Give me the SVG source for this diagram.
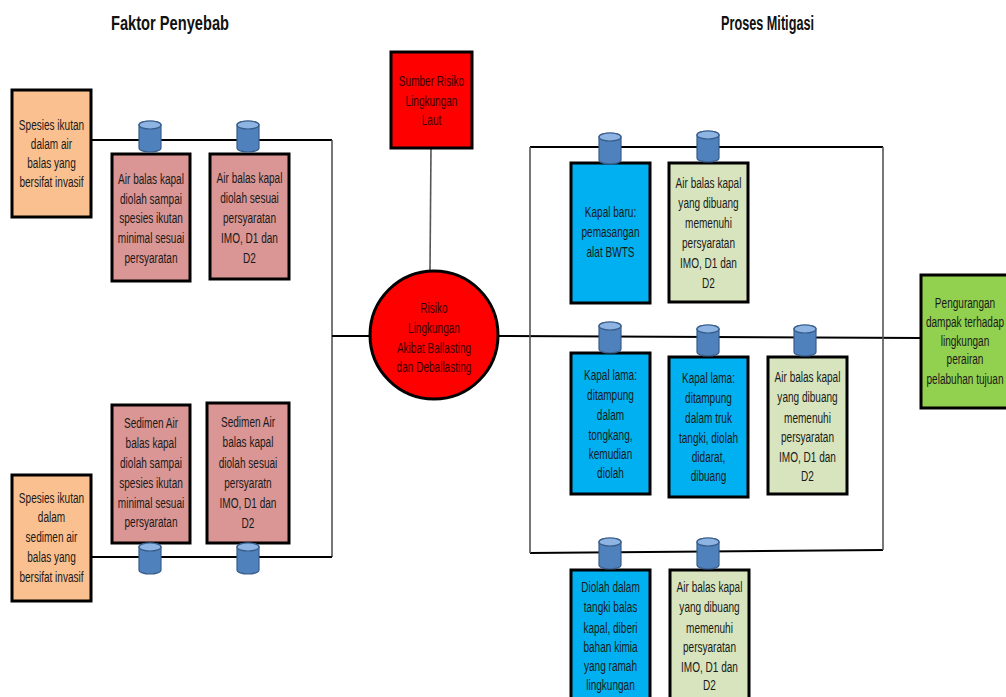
<svg xmlns="http://www.w3.org/2000/svg" xmlns:xlink="http://www.w3.org/1999/xlink" width="1006" height="697" viewBox="0 0 1006 697">
<style>
.box{stroke:#000;stroke-width:3}
.org{fill:#FAC090}.pnk{fill:#D99694}.blu{fill:#00B0F0}.lgr{fill:#D7E4BD}.grn{fill:#92D050}.red{fill:#FF0000}
.t{font-family:"Liberation Sans",Arial,sans-serif;font-size:15px;fill:#1a1a1a;text-anchor:middle}
.tr{font-family:"Liberation Sans",Arial,sans-serif;font-size:15px;fill:#3a0000;text-anchor:middle}
.h{font-family:"Liberation Sans",Arial,sans-serif;font-size:20px;font-weight:bold;fill:#111;text-anchor:middle}
.ln{fill:none;stroke:#000;stroke-width:2}
.lg{fill:none;stroke:#555;stroke-width:1.6}
</style>
<defs>
<g id="cyl">
<path d="M-11,4 V27 A11,4 0 0 0 11,27 V4 A11,4 0 0 0 -11,4 Z" fill="#4F81BD" stroke="#385D8A" stroke-width="1.2"/>
<ellipse cx="0" cy="4" rx="11" ry="4" fill="#8EB4E3" stroke="#385D8A" stroke-width="1.2"/>
</g>
</defs>
<rect width="1006" height="697" fill="#fff"/>
<text class="h" x="170" y="29.5" textLength="118" lengthAdjust="spacingAndGlyphs">Faktor Penyebab</text>
<text class="h" x="767.5" y="30" textLength="93" lengthAdjust="spacingAndGlyphs">Proses Mitigasi</text>

<g id="connectors">
<path class="ln" d="M91,140 H332"/>
<path class="lg" d="M332,140 V557"/>
<path class="ln" d="M91,557 H332"/>
<path class="ln" d="M332,336 H370"/>
<path class="lg" d="M431,148 L430,270"/>
<path class="ln" d="M498,336 L921,338"/>
<path class="ln" d="M530,147 H883"/>
<path class="ln" d="M530,553 L883,550"/>
<path class="lg" d="M530,147 V553"/>
<path class="lg" d="M883,147 V550"/>
</g>

<g id="n-spesies-air">
<rect class="box org" x="12" y="90" width="79" height="127"/>
<text class="t" transform="translate(51.5,0) scale(0.67,1)"><tspan x="0" y="130">Spesies ikutan</tspan><tspan x="0" y="149">dalam air</tspan><tspan x="0" y="168">balas yang</tspan><tspan x="0" y="187">bersifat invasif</tspan></text>
</g>
<g id="n-pink1">
<rect class="box pnk" x="112" y="154" width="78" height="127"/>
<text class="t" transform="translate(151,0) scale(0.67,1)"><tspan x="0" y="184">Air balas kapal</tspan><tspan x="0" y="204">diolah sampai</tspan><tspan x="0" y="223">spesies ikutan</tspan><tspan x="0" y="243">minimal sesuai</tspan><tspan x="0" y="263">persyaratan</tspan></text>
</g>
<g id="n-pink2">
<rect class="box pnk" x="210" y="154" width="79" height="125"/>
<text class="t" transform="translate(249.5,0) scale(0.67,1)"><tspan x="0" y="183">Air balas kapal</tspan><tspan x="0" y="203">diolah sesuai</tspan><tspan x="0" y="223">persyaratan</tspan><tspan x="0" y="243">IMO, D1 dan</tspan><tspan x="0" y="263">D2</tspan></text>
</g>
<g id="n-pink3">
<rect class="box pnk" x="112" y="405" width="78" height="138"/>
<text class="t" transform="translate(151,0) scale(0.67,1)"><tspan x="0" y="428">Sedimen Air</tspan><tspan x="0" y="448">balas kapal</tspan><tspan x="0" y="468">diolah sampai</tspan><tspan x="0" y="488">spesies ikutan</tspan><tspan x="0" y="508">minimal sesuai</tspan><tspan x="0" y="527">persyaratan</tspan></text>
</g>
<g id="n-pink4">
<rect class="box pnk" x="207" y="403" width="82" height="140"/>
<text class="t" transform="translate(248,0) scale(0.67,1)"><tspan x="0" y="427">Sedimen Air</tspan><tspan x="0" y="447">balas kapal</tspan><tspan x="0" y="468">diolah sesuai</tspan><tspan x="0" y="488">persyaratn</tspan><tspan x="0" y="508">IMO, D1 dan</tspan><tspan x="0" y="528">D2</tspan></text>
</g>
<g id="n-spesies-sedimen">
<rect class="box org" x="12" y="475" width="79" height="126"/>
<text class="t" transform="translate(51.5,0) scale(0.67,1)"><tspan x="0" y="503">Spesies ikutan</tspan><tspan x="0" y="522">dalam</tspan><tspan x="0" y="542">sedimen air</tspan><tspan x="0" y="562">balas yang</tspan><tspan x="0" y="582">bersifat invasif</tspan></text>
</g>

<g id="n-sumber">
<rect class="box red" x="391" y="52" width="81" height="96"/>
<text class="tr" transform="translate(431.5,0) scale(0.67,1)"><tspan x="0" y="86">Sumber Risiko</tspan><tspan x="0" y="106">Lingkungan</tspan><tspan x="0" y="125">Laut</tspan></text>
</g>
<g id="n-risiko">
<circle class="box red" cx="434" cy="335" r="64"/>
<text class="tr" transform="translate(434,0) scale(0.67,1)"><tspan x="0" y="313">Risiko</tspan><tspan x="0" y="333">Lingkungan</tspan><tspan x="0" y="353">Akibat Ballasting</tspan><tspan x="0" y="372">dan Deballasting</tspan></text>
</g>

<g id="n-kapal-baru">
<rect class="box blu" x="571" y="163" width="79" height="140"/>
<text class="t" transform="translate(610.5,0) scale(0.67,1)"><tspan x="0" y="217">Kapal baru:</tspan><tspan x="0" y="237">pemasangan</tspan><tspan x="0" y="257">alat BWTS</tspan></text>
</g>
<g id="n-lg1">
<rect class="box lgr" x="669" y="163" width="79" height="139"/>
<text class="t" transform="translate(708.5,0) scale(0.67,1)"><tspan x="0" y="188">Air balas kapal</tspan><tspan x="0" y="208">yang dibuang</tspan><tspan x="0" y="228">memenuhi</tspan><tspan x="0" y="248">persyaratan</tspan><tspan x="0" y="268">IMO, D1 dan</tspan><tspan x="0" y="288">D2</tspan></text>
</g>
<g id="n-kapal-lama1">
<rect class="box blu" x="571" y="353" width="79" height="141"/>
<text class="t" transform="translate(610.5,0) scale(0.67,1)"><tspan x="0" y="380">Kapal lama:</tspan><tspan x="0" y="400">ditampung</tspan><tspan x="0" y="420">dalam</tspan><tspan x="0" y="440">tongkang,</tspan><tspan x="0" y="459">kemudian</tspan><tspan x="0" y="478">diolah</tspan></text>
</g>
<g id="n-kapal-lama2">
<rect class="box blu" x="669" y="357" width="79" height="140"/>
<text class="t" transform="translate(708.5,0) scale(0.67,1)"><tspan x="0" y="383">Kapal lama:</tspan><tspan x="0" y="403">ditampung</tspan><tspan x="0" y="423">dalam truk</tspan><tspan x="0" y="443">tangki, diolah</tspan><tspan x="0" y="462">didarat,</tspan><tspan x="0" y="481">dibuang</tspan></text>
</g>
<g id="n-lg2">
<rect class="box lgr" x="768" y="357" width="79" height="137"/>
<text class="t" transform="translate(807.5,0) scale(0.67,1)"><tspan x="0" y="382">Air balas kapal</tspan><tspan x="0" y="402">yang dibuang</tspan><tspan x="0" y="423">memenuhi</tspan><tspan x="0" y="442">persyaratan</tspan><tspan x="0" y="462">IMO, D1 dan</tspan><tspan x="0" y="481">D2</tspan></text>
</g>
<g id="n-diolah">
<rect class="box blu" x="571" y="570" width="79" height="132"/>
<text class="t" transform="translate(610.5,0) scale(0.67,1)"><tspan x="0" y="592">Diolah dalam</tspan><tspan x="0" y="612">tangki balas</tspan><tspan x="0" y="633">kapal, diberi</tspan><tspan x="0" y="652">bahan kimia</tspan><tspan x="0" y="671">yang ramah</tspan><tspan x="0" y="690">lingkungan</tspan></text>
</g>
<g id="n-lg3">
<rect class="box lgr" x="670" y="570" width="79" height="132"/>
<text class="t" transform="translate(709.5,0) scale(0.67,1)"><tspan x="0" y="592">Air balas kapal</tspan><tspan x="0" y="612">yang dibuang</tspan><tspan x="0" y="633">memenuhi</tspan><tspan x="0" y="652">persyaratan</tspan><tspan x="0" y="672">IMO, D1 dan</tspan><tspan x="0" y="690">D2</tspan></text>
</g>
<g id="n-pengurangan">
<rect class="box grn" x="921" y="275" width="92" height="133"/>
<text class="t" transform="translate(965,0) scale(0.67,1)"><tspan x="0" y="308">Pengurangan</tspan><tspan x="0" y="327">dampak terhadap</tspan><tspan x="0" y="346">lingkungan</tspan><tspan x="0" y="364">perairan</tspan><tspan x="0" y="384">pelabuhan tujuan</tspan></text>
</g>

<g id="cylinders">
<use xlink:href="#cyl" x="150" y="121"/>
<use xlink:href="#cyl" x="248" y="121"/>
<use xlink:href="#cyl" x="150" y="543"/>
<use xlink:href="#cyl" x="248" y="543"/>
<use xlink:href="#cyl" x="610" y="133"/>
<use xlink:href="#cyl" x="708" y="131"/>
<use xlink:href="#cyl" x="610" y="322"/>
<use xlink:href="#cyl" x="708" y="325"/>
<use xlink:href="#cyl" x="805" y="325"/>
<use xlink:href="#cyl" x="610" y="538"/>
<use xlink:href="#cyl" x="708" y="538"/>
</g>
</svg>
